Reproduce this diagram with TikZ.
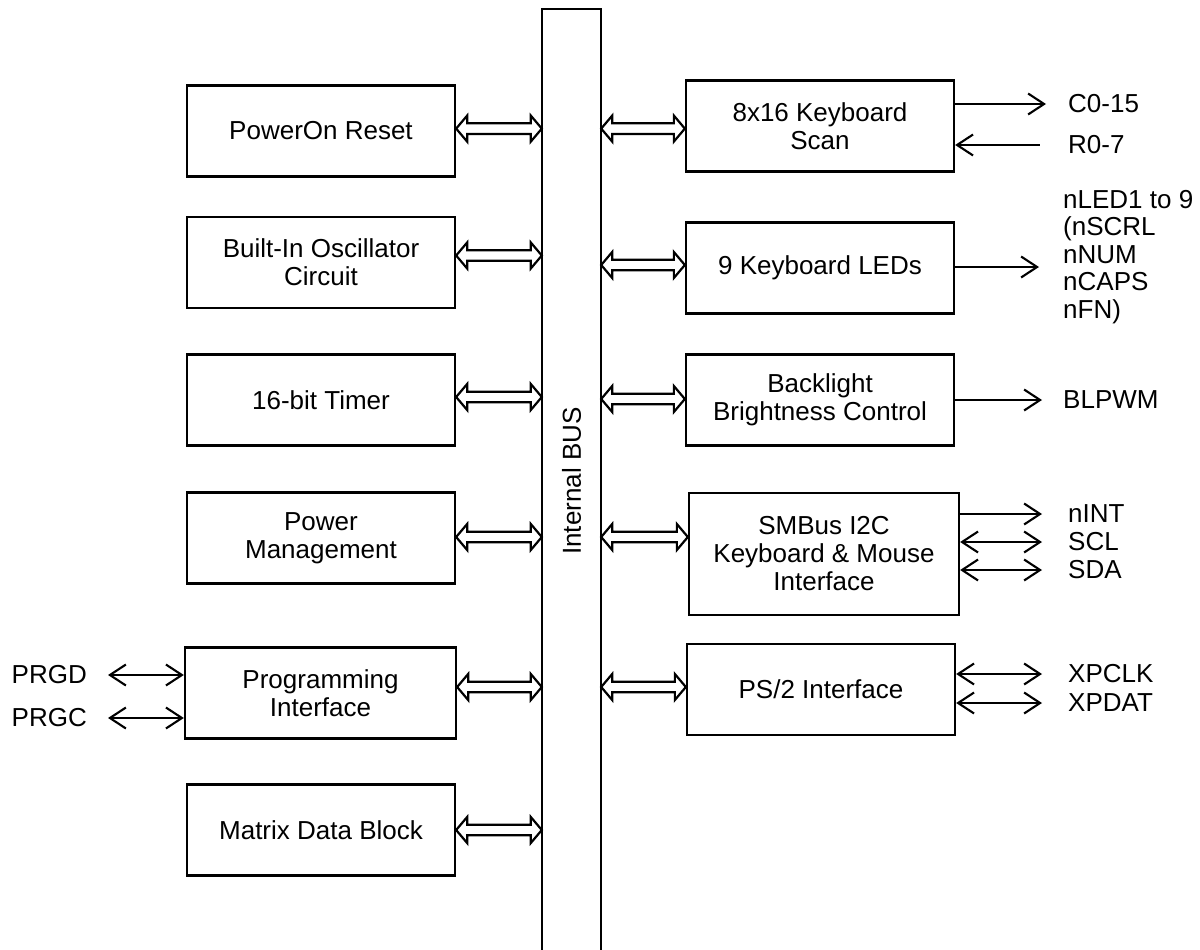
\documentclass[tikz,border=0pt]{standalone}
\usepackage{fontspec}
\setmainfont{Liberation Sans}
\usetikzlibrary{arrows.meta,calc}
\newcommand\dfont{\fontsize{26}{28}\selectfont}
\newcommand\hollowarrow[2]{%
  \draw[hol] let \p1=(#1), \p2=(#2) in
    (\x1,\y1) -- (\x1+11pt,\y1+13pt) -- (\x1+11pt,\y1+5.3pt) -- (\x2-11pt,\y1+5.3pt)
    -- (\x2-11pt,\y1+13pt) -- (\x2,\y1) -- (\x2-11pt,\y1-13pt) -- (\x2-11pt,\y1-5.3pt)
    -- (\x1+11pt,\y1-5.3pt) -- (\x1+11pt,\y1-13pt) -- cycle;}
\begin{document}
\begin{tikzpicture}[x=1pt,y=-1pt,
  box/.style={draw, line width=2.3pt, minimum width=268pt, minimum height=91pt,
    inner sep=0pt, align=center, font=\dfont},
  lbl/.style={inner sep=0pt, font=\dfont, anchor=west, align=left},
  rlbl/.style={inner sep=0pt, font=\dfont, anchor=east},
  hol/.style={line width=2.2pt, line join=miter},
  sig/.style={line width=2.1pt},
  sigout/.style={sig, -{Straight Barb[length=16pt,width=21pt]}},
  sigin/.style={sig, {Straight Barb[length=16pt,width=21pt]}-},
  sigbi/.style={sig, {Straight Barb[length=16pt,width=21pt]}-{Straight Barb[length=16pt,width=21pt]}}]
\fill[white] (0,0) rectangle (1200,950);
\useasboundingbox (0,0) rectangle (1200,950);

% internal bus
\node[minimum width=59pt, minimum height=944pt, inner sep=0pt, anchor=north] (bus) at (571.5,9) {};
\draw[line width=2.3pt] (bus.south west) -- (bus.north west) -- (bus.north east) -- (bus.south east);
\node[rotate=90, inner sep=0pt, font=\dfont] (buslbl) at (571.5,481) {Internal BUS};

% left blocks
\node[box] (por)  at (321,131)   {PowerOn Reset};
\node[box] (osc)  at (321,262.5) {Built-In Oscillator\\Circuit};
\node[box] (tmr)  at (321,400)   {16-bit Timer};
\node[box] (pm)   at (321,538)   {Power\\Management};
\node[box, minimum width=271pt] (prog) at (320.5,693) {Programming\\Interface};
\node[box] (mdb)  at (321,830)   {Matrix Data Block};

% right blocks
\node[box] (kbs)  at (820,126)   {8x16 Keyboard\\Scan};
\node[box] (led)  at (820,268)   {9 Keyboard LEDs};
\node[box] (bl)   at (820,400)   {Backlight\\Brightness Control};
\node[box, minimum width=270pt, minimum height=122.6pt] (smb) at (824,554) {SMBus I2C\\Keyboard \& Mouse\\Interface};
\node[box] (ps2)  at (821,689.5) {PS/2 Interface};

% hollow bus arrows
\hollowarrow{$(por.east)+(0,-2.4)$}{bus.west}
\hollowarrow{$(osc.east)+(0,-7)$}{bus.west}
\hollowarrow{$(tmr.east)+(0,-3)$}{bus.west}
\hollowarrow{$(pm.east)+(0,-1)$}{bus.west}
\hollowarrow{$(prog.east)+(0,-6)$}{bus.west}
\hollowarrow{$(mdb.east)+(0,0)$}{bus.west}
\hollowarrow{$(bus.east|-kbs.west)+(0,2.6)$}{kbs.west}
\hollowarrow{$(bus.east|-led.west)+(0,-3)$}{led.west}
\hollowarrow{$(bus.east|-bl.west)+(0,-1)$}{bl.west}
\hollowarrow{$(bus.east|-smb.west)+(0,-17)$}{smb.west}
\hollowarrow{$(bus.east|-ps2.west)+(0,-2.5)$}{ps2.west}

% right signals
\node[lbl] (c015) at (1068,104) {C0-15};
\draw[sigout] (kbs.east |- c015.west) -- ([xshift=-22pt]c015.west);
\node[lbl] (r07) at (1068,145) {R0-7};
\draw[sigin] (kbs.east |- r07.west) -- ([xshift=-28pt]r07.west);

\node[lbl, font={\fontsize{26}{27.6}\selectfont}] (nled) at (1063,257) {nLED1 to 9\\(nSCRL\\nNUM\\nCAPS\\nFN)};
\coordinate (ledend) at (1039,267);
\draw[sigout] (led.east |- ledend) -- (ledend);

\node[lbl] (blpwm) at (1063,400) {BLPWM};
\draw[sigout] (bl.east |- blpwm.west) -- ([xshift=-21pt]blpwm.west);

\node[lbl] (nint) at (1068,514) {nINT};
\draw[sigout] (smb.east |- nint.west) -- ([xshift=-26pt]nint.west);
\node[lbl] (scl) at (1068,542) {SCL};
\draw[sigbi] (smb.east |- scl.west) -- ([xshift=-26pt]scl.west);
\node[lbl] (sda) at (1068,570) {SDA};
\draw[sigbi] (smb.east |- sda.west) -- ([xshift=-26pt]sda.west);

\node[lbl] (xpclk) at (1068,674) {XPCLK};
\draw[sigbi] (ps2.east |- xpclk.west) -- ([xshift=-26pt]xpclk.west);
\node[lbl] (xpdat) at (1068,703) {XPDAT};
\draw[sigbi] (ps2.east |- xpdat.west) -- ([xshift=-26pt]xpdat.west);

% left signals
\node[rlbl] (prgd) at (87,675) {PRGD};
\draw[sigbi] ([xshift=21pt]prgd.east) -- (prog.west |- prgd.east);
\node[rlbl] (prgc) at (87,718) {PRGC};
\draw[sigbi] ([xshift=21pt]prgc.east) -- (prog.west |- prgc.east);
\end{tikzpicture}
\end{document}
